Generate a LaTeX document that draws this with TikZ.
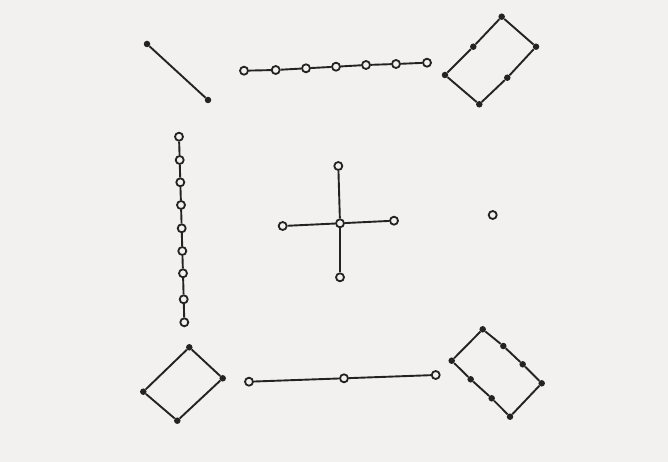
\documentclass[tikz,border=0pt]{standalone}
\usetikzlibrary{calc}
\definecolor{bg}{RGB}{243,241,239}
\definecolor{ink}{RGB}{35,35,35}
\begin{document}
\begin{tikzpicture}[x=1pt,y=-1pt,
  wdot/.style={circle,draw=ink,fill=bg,inner sep=0pt,minimum size=8pt,line width=1.8pt},
  bdot/.style={circle,fill=ink,inner sep=0pt,minimum size=6.5pt},
  link/.style={draw=ink,line width=1.9pt}]
\fill[bg] (0,0) rectangle (668,462);
\useasboundingbox (0,0) rectangle (668,462);
% top-left: 2 black
\node[bdot] (a1) at (147,44) {};
\node[bdot] (a2) at (208,100) {};
\draw[link] (a1) -- (a2);
% top: 7 white
\foreach \i/\x/\y in {1/244/70.7,2/275.7/70,3/306/68.3,4/336/66.7,5/366/65,6/396/64,7/427/62.7}
  \node[wdot] (t\i) at (\x,\y) {};
\foreach \i [evaluate=\i as \j using int(\i+1)] in {1,...,6}
  \draw[link] (t\i) -- (t\j);
% top-right: 6 black
\node[bdot] (r1) at (501.7,16.7) {};
\node[bdot] (r2) at (536,46.7) {};
\node[bdot] (r3) at (507.3,77.7) {};
\node[bdot] (r4) at (479.3,104.3) {};
\node[bdot] (r5) at (445,75) {};
\node[bdot] (r6) at (473.3,46.7) {};
\draw[link] (r1) -- (r2) -- (r3) -- (r4) -- (r5) -- (r6) -- (r1);
% left: 9 white
\foreach \i/\x/\y in {1/179/136.7,2/179.7/160,3/180.3/182.3,4/181/205,5/181.7/228.3,6/182.3/251,7/183/273.3,8/183.7/299.3,9/184.3/322.3}
  \node[wdot] (l\i) at (\x,\y) {};
\foreach \i [evaluate=\i as \j using int(\i+1)] in {1,...,8}
  \draw[link] (l\i) -- (l\j);
% centre: 5 white
\node[wdot] (c0) at (340,223.3) {};
\node[wdot] (cn) at (338.3,166) {};
\node[wdot] (cs) at (340,277.3) {};
\node[wdot] (cw) at (282.7,226) {};
\node[wdot] (ce) at (394,220.7) {};
\draw[link] (c0) -- (cn);
\draw[link] (c0) -- (cs);
\draw[link] (c0) -- (cw);
\draw[link] (c0) -- (ce);
% right: 1 white
\node[wdot] (e1) at (492.7,215) {};
% bottom-left: 4 black
\node[bdot] (g1) at (189.3,347.3) {};
\node[bdot] (g2) at (222.7,378.3) {};
\node[bdot] (g3) at (177.3,420.7) {};
\node[bdot] (g4) at (143.3,391.7) {};
\draw[link] (g1) -- (g2) -- (g3) -- (g4) -- (g1);
% bottom: 3 white
\node[wdot] (b1) at (249,381.7) {};
\node[wdot] (b2) at (344,378.3) {};
\node[wdot] (b3) at (435.7,375) {};
\draw[link] (b1) -- (b2);
\draw[link] (b2) -- (b3);
% bottom-right: 8 black
\node[bdot] (h1) at (482.7,329.3) {};
\node[bdot] (h2) at (503.3,346) {};
\node[bdot] (h3) at (522.7,364.3) {};
\node[bdot] (h4) at (541.7,383.3) {};
\node[bdot] (h5) at (510,416.7) {};
\node[bdot] (h6) at (491.7,398.3) {};
\node[bdot] (h7) at (470.7,379.3) {};
\node[bdot] (h8) at (451.7,360.7) {};
\draw[link] (h1) -- (h2) -- (h3) -- (h4) -- (h5) -- (h6) -- (h7) -- (h8) -- (h1);
\end{tikzpicture}
\end{document}
